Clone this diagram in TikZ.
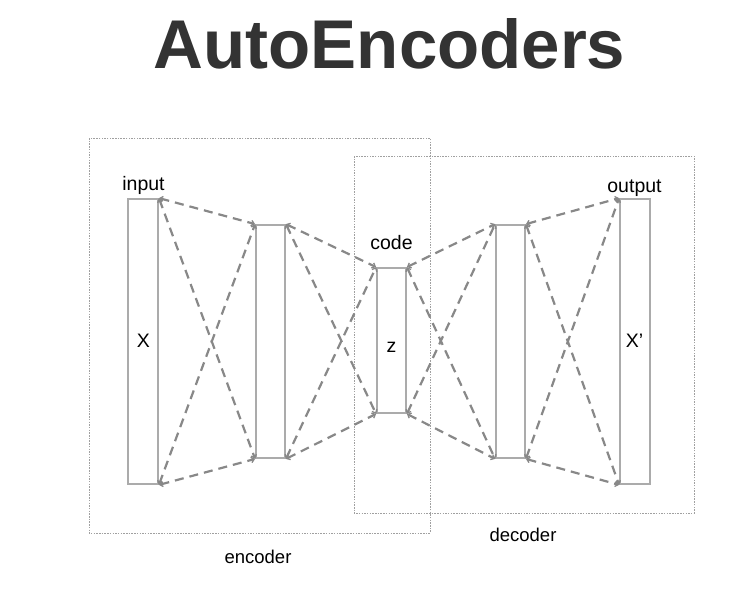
\documentclass[tikz,border=0pt]{standalone}
\usepackage{fontspec}
\setmainfont{Liberation Sans}
\usetikzlibrary{arrows.meta}
\definecolor{titlegray}{HTML}{333333}
\definecolor{boxgray}{HTML}{ABABAB}
\definecolor{dashgray}{HTML}{888888}
\definecolor{dotgray}{HTML}{A0A0A0}
\tikzset{
  layer/.style={draw=boxgray, line width=1.8pt, fill=white, minimum width=#1, inner sep=0pt},
  conn/.style={draw=dashgray, line width=2.2pt, dash pattern=on 9pt off 6pt, {Straight Barb[length=3pt,width=5.5pt,line width=1.3pt]}-{Straight Barb[length=3pt,width=5.5pt,line width=1.3pt]}},
  region/.style={draw=dotgray, line width=0.9pt, dash pattern=on 1.5pt off 1.2pt},
  lbl/.style={font=\fontsize{19.5}{22}\selectfont, inner sep=0pt, anchor=base}
}
\begin{document}
\begin{tikzpicture}[x=1pt,y=-1pt]
\useasboundingbox (0,0) rectangle (749,589);
\fill[white] (0,0) rectangle (749,589);
% title
\node[anchor=base, inner sep=0pt, text=titlegray, font=\fontsize{69}{80}\selectfont\bfseries] (title) at (389.5,68) {AutoEncoders};
% regions
\draw[region] (89,138) rectangle (430,533);
\draw[region] (354,156) rectangle (694,513);
% layers
\node[layer=30pt, minimum height=285pt] (in) at (143,341.5) {};
\node[layer=29pt, minimum height=233pt] (h1) at (270.5,341.5) {};
\node[layer=29pt, minimum height=145pt] (z) at (391.5,340.5) {};
\node[layer=29pt, minimum height=233pt] (h2) at (510.5,341.5) {};
\node[layer=30pt, minimum height=285pt] (out) at (635,341.5) {};
% connectors
\foreach \a/\b in {in/h1,h1/z,z/h2,h2/out}{
  \draw[conn] (\a.north east) -- (\b.north west);
  \draw[conn] (\a.north east) -- (\b.south west);
  \draw[conn] (\a.south east) -- (\b.north west);
  \draw[conn] (\a.south east) -- (\b.south west);
}
% labels
\node[lbl] (tx) at (143.5,347) {X};
\node[lbl] (tz) at (391.5,352) {z};
\node[lbl] (txp) at (634.5,347) {X'};
\node[lbl] (linput) at (143.5,190) {input};
\node[lbl] (lcode) at (391.5,249) {code};
\node[lbl] (loutput) at (634.5,192) {output};
\node[lbl, font=\fontsize{18.5}{22}\selectfont] (lenc) at (258,563) {encoder};
\node[lbl, font=\fontsize{18.5}{22}\selectfont] (ldec) at (523,541) {decoder};
\end{tikzpicture}
\end{document}
